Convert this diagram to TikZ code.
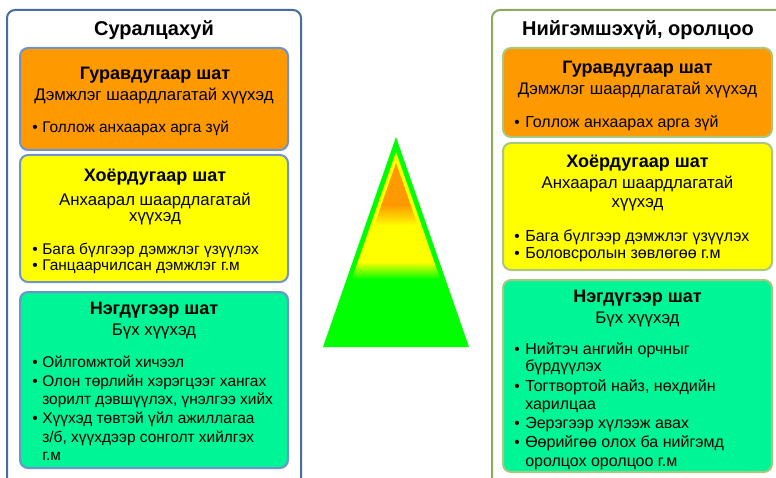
\documentclass[tikz,border=0pt]{standalone}
\usepackage{fontspec}
\setmainfont{Liberation Sans}
\definecolor{frameL}{HTML}{4A6D9E}
\definecolor{edgeL}{HTML}{6F93CF}
\definecolor{frameR}{HTML}{8BAA5C}
\definecolor{edgeR}{HTML}{A9C77E}
\definecolor{tierO}{HTML}{FF9900}
\definecolor{tierY}{HTML}{FFFF00}
\definecolor{tierG}{HTML}{00F596}
\definecolor{pyrG}{HTML}{00FF00}
\tikzset{
  frame/.style={line width=1.5pt, rounded corners=6pt},
  tier/.style={draw, line width=1.5pt, rounded corners=6pt, inner sep=0pt},
  tsize/.style 2 args={minimum width=#1*0.75pt, minimum height=#2*0.75pt},
  title/.style={anchor=base, inner sep=0pt, font=\bfseries\fontsize{15}{18}\selectfont},
  head/.style={anchor=base, inner sep=0pt, font=\bfseries\fontsize{13.5}{16}\selectfont},
  sub/.style={anchor=base, inner sep=0pt, font=\fontsize{12.6}{15}\selectfont},
  item/.style={anchor=base west, inner sep=0pt, font=\fontsize{11.6}{13}\selectfont},
}
\begin{document}
\begin{tikzpicture}[x=0.75pt, y=-0.75pt]
	\useasboundingbox (0,0) rectangle (776,478);
	\clip (0,0) rectangle (776,478);
	% frames
	\draw[frame, frameL] (7,10) rectangle (301,495);
	\draw[frame, frameR] (492,10) rectangle (785,495);
	\node[title] (Ltitle) at (154,36) {Суралцахуй};
	\node[title] (Rtitle) at (638,36) {Нийгэмшэхүй, оролцоо};
	% left tiers
	\node[tier, edgeL, fill=tierO, tsize={268}{102}] (L3) at (154,99) {};
	\node[tier, edgeL, fill=tierY, tsize={268}{127}] (L2) at (154,218.5) {};
	\node[tier, edgeL, fill=tierG, tsize={268}{176}] (L1) at (154,380) {};
	% right tiers
	\node[tier, edgeR, fill=tierO, tsize={269}{89}] (R3) at (637.5,92.5) {};
	\node[tier, edgeR, fill=tierY, tsize={269}{127}] (R2) at (637.5,206.5) {};
	\node[tier, edgeR, fill=tierG, tsize={269}{192}] (R1) at (637.5,376) {};
	% headings
	\foreach \n/\x/\y/\t in {L3/155/80/Гуравдугаар шат, L2/155/181/Хоёрдугаар шат, L1/154/315/Нэгдүгээр шат,
		R3/637.5/74/Гуравдугаар шат, R2/637.5/168/Хоёрдугаар шат, R1/637.5/302/Нэгдүгээр шат}{
		\node[head] (\n h) at (\x,\y) {\t};
	}
	\foreach \n/\x/\y/\t in {L3a/154/101/Дэмжлэг шаардлагатай хүүхэд, L2a/155/205/Анхаарал шаардлагатай, L2b/155/222/хүүхэд,
		L1a/154/335/Бүх хүүхэд, R3a/637.5/95/Дэмжлэг шаардлагатай хүүхэд, R2a/637.5/189/Анхаарал шаардлагатай,
		R2b/637.5/208/хүүхэд, R1a/637.5/323/Бүх хүүхэд}{
		\node[sub] (\n) at (\x,\y) {\t};
	}
	% bullet lines
	\foreach \n/\y/\t in {1/133/Голлож анхаарах арга зүй, 2/254/Бага бүлгээр дэмжлэг үзүүлэх,
		3/271/Ганцаарчилсан дэмжлэг г.м, 4/367/Ойлгомжтой хичээл, 5/386/Олон төрлийн хэрэгцээг хангах,
		6/404/{зорилт дэвшүүлэх, үнэлгээ хийх}, 7/423/Хүүхэд төвтэй үйл ажиллагаа,
		8/442/{з/б, хүүхдээр сонголт хийлгэх}, 9/460/г.м}{
		\node[item] (Li\n) at (42,\y) {\t};
	}
	\foreach \n/\y/\t in {1/128/Голлож анхаарах арга зүй, 2/242/Бага бүлгээр дэмжлэг үзүүлэх,
		3/258/Боловсролын зөвлөгөө г.м, 4/354/Нийтэч ангийн орчныг, 5/371/бүрдүүлэх,
		6/391/{Тогтвортой найз, нөхдийн}, 7/409/харилцаа, 8/428/Эерэгээр хүлээж авах,
		9/447/Өөрийгөө олох ба нийгэмд, 10/466/оролцох оролцоо г.м}{
		\node[item, font=\fontsize{12}{14}\selectfont] (Ri\n) at (525,\y) {\t};
	}
	\foreach \n/\y in {1/133,2/254,3/271,4/367,5/386,7/423}{
		\node[item] (Ld\n) at (32,\y) {•};
	}
	\foreach \n/\y in {1/128,2/242,3/258,4/354,6/391,8/428,9/447}{
		\node[item] (Rd\n) at (514,\y) {•};
	}
	% pyramid
	\fill[pyrG] (396,137) -- (469,347) -- (323,347) -- cycle;
	\begin{scope}
		\clip (396,152) -- (463.8,347) -- (328.2,347) -- cycle;
		\fill[tierY] (320,150) rectangle (472,262);
		\shade[top color=tierY, bottom color=pyrG] (320,262) rectangle (472,279);
	\end{scope}
	\begin{scope}
		\clip (396,163) -- (460,347) -- (332,347) -- cycle;
		\fill[tierO] (320,160) rectangle (472,205);
		\shade[top color=tierO, bottom color=tierY] (320,205) rectangle (472,226);
		\fill[tierY] (320,225) rectangle (472,263);
		\shade[top color=tierY, bottom color=pyrG] (320,262) rectangle (472,279);
	\end{scope}
\end{tikzpicture}
\end{document}
